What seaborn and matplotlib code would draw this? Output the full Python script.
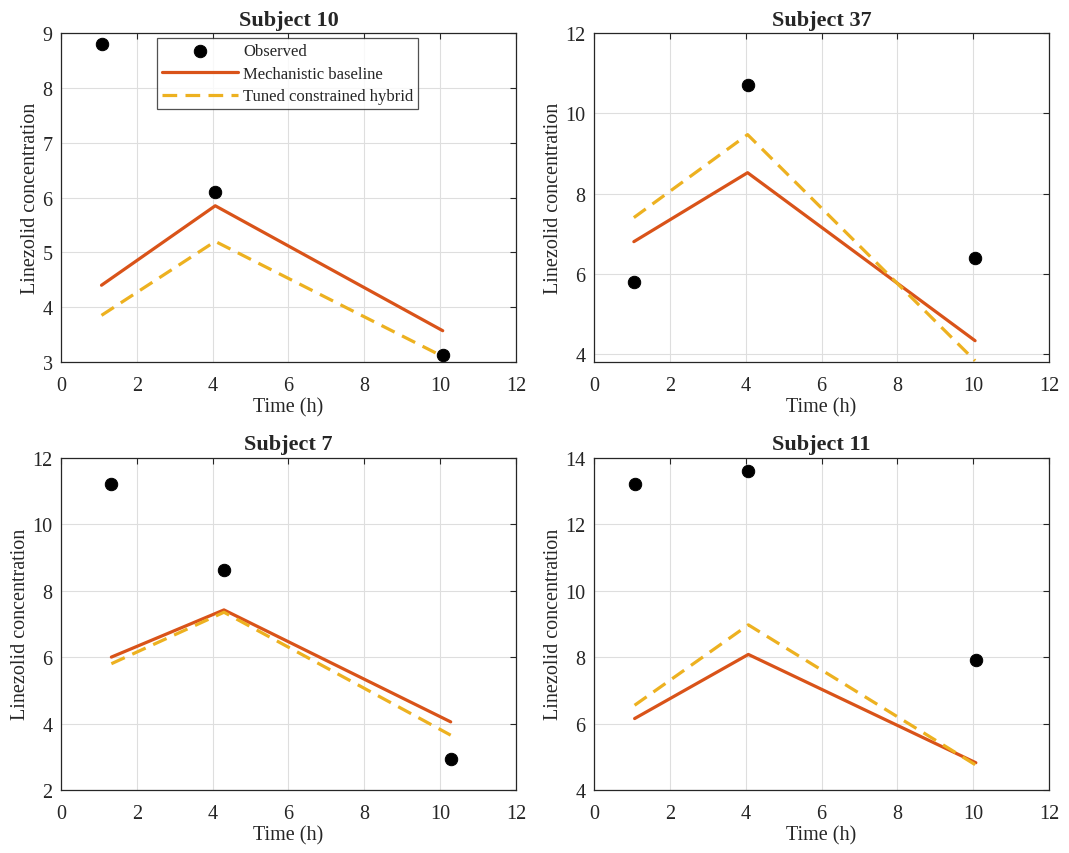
import numpy as np
import pandas as pd
import matplotlib
matplotlib.use("Agg")
import matplotlib.pyplot as plt
import seaborn as sns

# values
subjects = ["Subject 10", "Subject 37", "Subject 7", "Subject 11"]
times = [
    [1.07, 4.07, 10.07],
    [1.05, 4.05, 10.05],
    [1.33, 4.30, 10.28],
    [1.07, 4.07, 10.07],
]
observed = [
    [8.80, 6.10, 3.12],
    [5.80, 10.70, 6.40],
    [11.20, 8.62, 2.92],
    [13.20, 13.60, 7.90],
]
baseline = [
    [4.40, 5.85, 3.57],
    [6.80, 8.52, 4.33],
    [6.00, 7.42, 4.05],
    [6.15, 8.08, 4.82],
]
hybrid = [
    [3.85, 5.20, 3.10],
    [7.40, 9.47, 3.83],
    [5.80, 7.35, 3.65],
    [6.55, 8.97, 4.75],
]
ylims = [(3, 9), (3.8, 12), (2, 12), (4, 14)]
ysteps = [1, 2, 2, 2]

rows = []
for i, s in enumerate(subjects):
    for t, o, b, h in zip(times[i], observed[i], baseline[i], hybrid[i]):
        rows.append({"subject": s, "t": t, "obs": o, "base": b, "hyb": h})
df = pd.DataFrame(rows)

sns.set_style("white")
plt.rcParams["font.family"] = ["Liberation Serif", "DejaVu Serif"]

c_base = "#D95319"
c_hyb = "#EDB120"
txt = "#262626"

fig = plt.figure(figsize=(10.69, 8.54), dpi=100)
positions = [
    [0.057, 0.575, 0.4256, 0.385],
    [0.5557, 0.575, 0.4256, 0.385],
    [0.057, 0.0738, 0.4256, 0.389],
    [0.5557, 0.0738, 0.4256, 0.389],
]

for i, s in enumerate(subjects):
    ax = fig.add_axes(positions[i])
    d = df[df["subject"] == s]
    sns.lineplot(data=d, x="t", y="base", ax=ax, color=c_base, lw=2.3,
                 label="Mechanistic baseline", sort=False, zorder=3)
    sns.lineplot(data=d, x="t", y="hyb", ax=ax, color=c_hyb, lw=2.3,
                 label="Tuned constrained hybrid", sort=False, zorder=3)
    ax.lines[-1].set_dashes([4.6, 2.6])
    sns.scatterplot(data=d, x="t", y="obs", ax=ax, color="black", s=80,
                    edgecolor="black", label="Observed", zorder=4)

    ax.set_xlim(0, 12)
    ax.set_ylim(*ylims[i])
    ax.set_xticks(np.arange(0, 13, 2))
    lo = int(np.ceil(ylims[i][0]))
    if lo % ysteps[i]:
        lo += 1
    ax.set_yticks(np.arange(lo, ylims[i][1] + 0.01, ysteps[i]))
    ax.grid(True, color="#dedede", lw=0.8)
    ax.set_axisbelow(True)
    ax.tick_params(direction="in", top=True, right=True, length=4,
                   labelsize=14.5, colors=txt, width=0.8)
    ax.tick_params(axis="y", pad=6)
    ax.tick_params(axis="x", pad=10)
    for sp in ax.spines.values():
        sp.set_color(txt)
        sp.set_linewidth(0.9)
    ax.set_xlabel("Time (h)", fontsize=14.5, color=txt, labelpad=2)
    ax.set_ylabel("Linezolid concentration", fontsize=14.5, color=txt, labelpad=2)
    ax.set_title(s, fontsize=16, fontweight="bold", pad=6)

    if i == 0:
        h, l = ax.get_legend_handles_labels()
        order = [2, 0, 1]
        leg = ax.legend([h[k] for k in order], [l[k] for k in order],
                        loc="upper center", bbox_to_anchor=(0.498, 0.985),
                        fontsize=12, frameon=True, fancybox=False,
                        edgecolor=txt, borderpad=0.3, labelspacing=0.4,
                        handlelength=4.6, handletextpad=0.3, borderaxespad=0)
        leg.get_frame().set_linewidth(0.9)
    else:
        ax.get_legend().remove()

fig.savefig("out.png", dpi=100, facecolor="white")
